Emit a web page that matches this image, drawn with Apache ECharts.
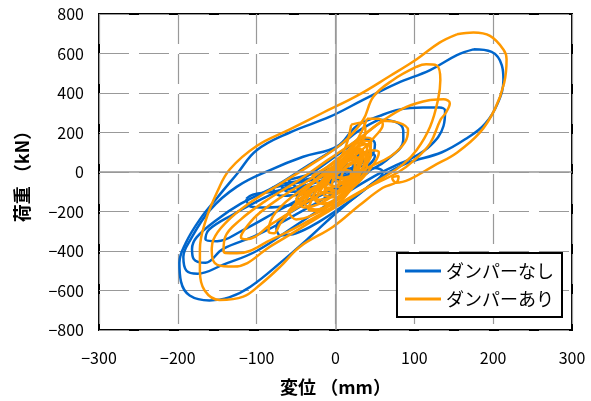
<!DOCTYPE html>
<html>
<head>
<meta charset="utf-8">
<script src="https://cdn.jsdelivr.net/npm/echarts@6/dist/echarts.min.js"></script>
<style>
  html, body { margin: 0; padding: 0; background: #fff; }
  #chart { width: 591px; height: 401px; }
</style>
</head>
<body>
<div id="chart"></div>
<script>
// 変位 (mm) / 荷重 (kN) — hysteresis loops
const xTicks = [-300, 300, 100];
const yTicks = [-800, 800, 200];

// ダンパーなし (blue)
const blueLoop1 = [[175,621],[198,608],[211,540],[213,466],[206,350],[190,245],[168,175],[135,100],[90,44],[60,-20],[30,-110],[0,-210],[-30,-320],[-66,-446],[-108,-581],[-135,-635],[-160,-650],[-185,-625],[-196,-555],[-198,-460],[-190,-360],[-172,-240],[-150,-130],[-125,-10],[-100,110],[-58,200],[-7,280],[35,365],[78,449],[120,516],[154,592]];
const blueLoop2 = [[111,326],[132,326],[139,310],[137,233],[120,132],[94,64],[80,40],[50,-20],[0,-140],[-50,-270],[-100,-400],[-143,-470],[-175,-515],[-189,-500],[-193,-430],[-185,-350],[-159,-192],[-125,-74],[-83,10],[-41,77],[2,130],[27,233],[56,284],[82,317]];
const blueLoop3 = [[55,265],[75,255],[86,210],[86,162],[65,61],[40,0],[0,-100],[-50,-215],[-100,-320],[-143,-390],[-165,-460],[-180,-440],[-182,-390],[-176,-330],[-150,-240],[-120,-160],[-80,-80],[-40,20],[0,120],[30,210]];
const blueLoop4 = [[30,170],[45,165],[50,140],[45,80],[20,20],[-20,-80],[-70,-190],[-120,-300],[-150,-350],[-165,-340],[-160,-290],[-130,-215],[-90,-130],[-40,-30],[0,80]];
const blueLoop5 = [[-113,-135],[-108,-175],[-90,-180],[-60,-170],[-20,-120],[20,-50],[45,20],[35,30],[0,-20],[-40,-70],[-80,-100],[-105,-115]];
const blueLoop6 = [[-75,-290],[-70,-320],[-50,-310],[-20,-250],[10,-170],[40,-80],[60,0],[50,20],[20,-40],[-20,-120],[-55,-200],[-72,-250]];
const blueLoop7 = [[-70,-60],[-60,-100],[-30,-90],[0,-40],[25,20],[20,40],[-10,-10],[-40,-40]];
const blueLoop8 = [[-80,-80],[-70,-120],[-40,-110],[-10,-60],[20,0],[15,20],[-20,-30],[-55,-60]];
const blueLoop9 = [[-50,-80],[-30,-120],[0,-80],[30,0],[50,80],[40,100],[10,50],[-20,-10]];
const blueLoop10 = [[-60,-40],[-45,-80],[-20,-70],[10,-10],[35,60],[30,80],[5,30],[-30,-10]];

// ダンパーあり (orange)
const orangeLoop1 = [[154,697],[175,706],[196,689],[213,620],[217,571],[214,452],[202,317],[183,199],[154,98],[124,30],[94,-37],[77,-54],[72,-30],[80,-20],[78,-50],[60,-80],[30,-170],[-3,-277],[-45,-378],[-70,-479],[-96,-572],[-117,-631],[-147,-648],[-166,-600],[-172,-500],[-172,-390],[-165,-250],[-150,-100],[-134,14],[-100,132],[-58,216],[-16,300],[27,385],[69,486],[103,571],[132,655]];
const orangeLoop2 = [[103,533],[115,545],[128,540],[133,466],[130,365],[120,229],[103,111],[86,40],[60,-30],[20,-130],[-30,-250],[-80,-370],[-129,-479],[-150,-470],[-157,-400],[-155,-344],[-140,-260],[-110,-160],[-70,-60],[-30,40],[10,150],[35,263],[48,381],[73,466]];
const orangeLoop3 = [[120,365],[137,368],[145,348],[140,300],[133,263],[120,145],[100,60],[80,0],[40,-80],[0,-170],[-40,-260],[-80,-340],[-125,-412],[-140,-410],[-142,-395],[-140,-330],[-120,-240],[-90,-150],[-50,-50],[-10,60],[30,170],[60,260],[90,330]];
const orangeLoop4 = [[60,260],[80,250],[92,213],[88,150],[70,80],[40,20],[0,-70],[-40,-160],[-80,-260],[-113,-340],[-120,-330],[-115,-290],[-100,-220],[-70,-130],[-30,-30],[10,90],[40,200]];
const orangeLoop5 = [[40,270],[55,270],[60,240],[50,180],[30,100],[0,20],[-40,-80],[-75,-200],[-85,-300],[-78,-310],[-70,-260],[-50,-170],[-20,-60],[10,60],[30,180]];
const orangeLoop6 = [[20,240],[35,250],[38,200],[25,120],[0,30],[-30,-60],[-50,-150],[-45,-160],[-30,-100],[-10,-10],[10,100]];
const orangeLoop7 = [[-60,-200],[-50,-240],[-30,-220],[0,-150],[30,-50],[50,50],[55,100],[45,110],[20,40],[-10,-40],[-40,-120]];
const orangeLoop8 = [[-40,-100],[-20,-140],[10,-90],[30,0],[45,90],[40,140],[25,120],[5,50],[-20,-20]];
const orangeLoop9 = [[-20,-60],[0,-100],[25,-30],[40,60],[45,150],[30,160],[15,90],[-5,10]];
const orangeLoop10 = [[-10,0],[5,-50],[25,0],[35,80],[30,120],[15,80],[0,30]];
const orangeLoop11 = [[-30,-20],[-10,-80],[15,-40],[30,40],[35,110],[20,110],[0,50]];
const orangeLoop12 = [[0,-30],[20,-20],[30,30],[25,70],[10,40]];
const orangeLoop13 = [[-50,-130],[-40,-180],[-15,-150],[10,-70],[20,0],[10,10],[-15,-50]];
const orangeLoop14 = [[-35,-190],[-20,-200],[5,-150],[25,-60],[40,40],[40,130],[30,150],[15,90],[-5,0],[-25,-100]];
const orangeLoop15 = [[-25,-150],[-5,-170],[15,-110],[30,-20],[38,80],[30,110],[15,60],[-5,-20],[-20,-90]];
const orangeLoop16 = [[-15,-120],[5,-130],[20,-70],[30,20],[32,100],[20,90],[5,30],[-10,-50]];
const orangeLoop17 = [[-40,-160],[-25,-190],[-5,-160],[15,-90],[28,0],[35,90],[25,100],[8,40],[-15,-50],[-32,-110]];
const orangeLoop18 = [[-5,-90],[10,-100],[22,-40],[28,40],[22,70],[10,30],[-2,-30]];
const orangeLoop19 = [[5,-60],[18,-50],[25,10],[22,50],[12,20]];
const orangeLoop20 = [[-20,-100],[0,-110],[18,-40],[25,50],[15,60],[-2,0]];
const orangeLoop21 = [[-30,-130],[-15,-160],[8,-110],[22,-30],[30,60],[20,80],[0,10],[-20,-70]];
const orangeLoop22 = [[0,-20],[15,-40],[28,20],[32,90],[22,100],[10,50]];
const orangeLoop23 = [[-10,-60],[10,-80],[30,-10],[42,80],[45,170],[32,175],[20,110],[0,20]];

const blueLoops = [blueLoop1, blueLoop2, blueLoop3, blueLoop4, blueLoop5, blueLoop6, blueLoop7, blueLoop8, blueLoop9, blueLoop10];
const orangeLoops = [orangeLoop1, orangeLoop2, orangeLoop3, orangeLoop4, orangeLoop5, orangeLoop6, orangeLoop7,
  orangeLoop8, orangeLoop9, orangeLoop10, orangeLoop11, orangeLoop12, orangeLoop13, orangeLoop14, orangeLoop15,
  orangeLoop16, orangeLoop17, orangeLoop18, orangeLoop19, orangeLoop20, orangeLoop21, orangeLoop22, orangeLoop23];

const BLUE = '#0066cc';
const ORANGE = '#ff9900';
const NAME_BLUE = 'ダンパーなし';
const NAME_ORANGE = 'ダンパーあり';

const loopSeries = (loop, name, color, z) => ({
  name: name,
  type: 'line',
  data: loop.concat([loop[0]]),
  symbol: 'none',
  smooth: 0.4,
  z: z,
  color: color,
  lineStyle: { color: color, width: 2.5 },
  silent: true,
  animation: false,
});

const series = [
  {
    type: 'line',
    data: [],
    z: 1,
    silent: true,
    markLine: {
      silent: true,
      symbol: 'none',
      label: { show: false },
      lineStyle: { color: '#999', type: 'solid', width: 1.5 },
      data: [{ xAxis: 0 }, { yAxis: 0 }],
      animation: false,
    },
  },
];
blueLoops.forEach((l) => series.push(loopSeries(l, NAME_BLUE, BLUE, 2)));
orangeLoops.forEach((l) => series.push(loopSeries(l, NAME_ORANGE, ORANGE, 3)));

const labelFont = { fontFamily: 'Noto Sans CJK JP', fontSize: 16, color: '#000' };

const option = {
  animation: false,
  grid: {
    left: 99, right: 19, top: 14, bottom: 71,
    show: true, borderColor: '#000', borderWidth: 2, backgroundColor: '#fff',
  },
  legend: {
    data: [NAME_BLUE, NAME_ORANGE],
    orient: 'vertical',
    left: 397, top: 253,
    backgroundColor: '#fff',
    borderColor: '#000', borderWidth: 2,
    padding: [9, 8, 9, 8],
    itemGap: 10,
    itemWidth: 36, itemHeight: 3,
    icon: 'rect',
    textStyle: { fontFamily: 'Noto Sans CJK JP', fontSize: 18, color: '#000' },
    z: 10,
  },
  xAxis: {
    type: 'value',
    min: xTicks[0], max: xTicks[1], interval: xTicks[2],
    name: '変位 （mm）',
    nameLocation: 'middle',
    nameGap: 48,
    nameTextStyle: { fontFamily: 'Noto Sans CJK JP', fontSize: 18, fontWeight: 'bold', color: '#000' },
    axisLine: { show: false, onZero: false },
    axisTick: { show: false },
    axisLabel: Object.assign({ margin: 20, formatter: (v) => String(v).replace('-', '−') }, labelFont),
    splitLine: { show: true, lineStyle: { color: '#999', type: [30, 10], width: 1.2 } },
  },
  yAxis: {
    type: 'value',
    min: yTicks[0], max: yTicks[1], interval: yTicks[2],
    name: '荷重 （kN）',
    nameLocation: 'middle',
    nameGap: 68,
    nameTextStyle: { fontFamily: 'Noto Sans CJK JP', fontSize: 18, fontWeight: 'bold', color: '#000' },
    axisLine: { show: false, onZero: false },
    axisTick: { show: false },
    axisLabel: Object.assign({ margin: 15, formatter: (v) => String(v).replace('-', '−') }, labelFont),
    splitLine: { show: true, lineStyle: { color: '#999', type: [30, 10], width: 1.2 } },
  },
  series: series,
};

const chart = echarts.init(document.getElementById('chart'), null, { renderer: 'canvas' });
chart.setOption(option);
</script>
</body>
</html>
